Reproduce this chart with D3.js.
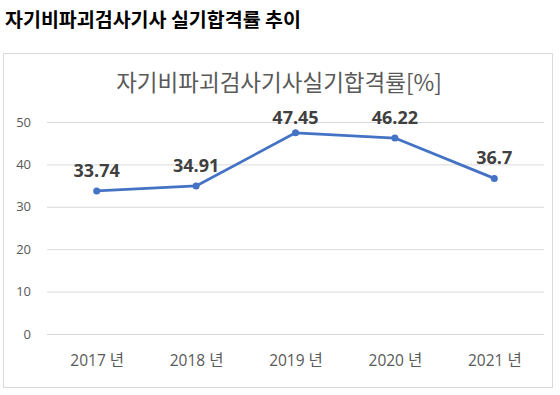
<!DOCTYPE html>
<html>
<head>
<meta charset="utf-8">
<script src="https://cdn.jsdelivr.net/npm/d3@7"></script>
<style>
  body { margin: 0; background: #fff; }
  text { font-family: "Open Sans", "Noto Sans CJK KR", sans-serif; }
  .kr { font-family: "Noto Sans CJK KR", sans-serif; }
</style>
</head>
<body>
<svg width="560" height="395"></svg>
<script>
// chart data
var years = ["2017 년", "2018 년", "2019 년", "2020 년", "2021 년"];
var passRates = [33.74, 34.91, 47.45, 46.22, 36.7];
var yTicks = [0, 10, 20, 30, 40, 50];

var pageTitle = "자기비파괴검사기사 실기합격률 추이";
var chartTitle = "자기비파괴검사기사실기합격률[%]";

var data = years.map(function(d, i) { return { year: d, value: passRates[i] }; });

var svg = d3.select("svg");

svg.append("text")
  .attr("class", "kr")
  .attr("x", 5)
  .attr("y", 27)
  .attr("font-size", 19.5)
  .attr("font-weight", "bold")
  .attr("fill", "#000")
  .text(pageTitle);

// chart box
svg.append("rect")
  .attr("x", 3.5).attr("y", 53.5)
  .attr("width", 549).attr("height", 334)
  .attr("fill", "#fff")
  .attr("stroke", "#d9d9d9");

svg.append("text")
  .attr("class", "kr")
  .attr("x", 279)
  .attr("y", 91)
  .attr("text-anchor", "middle")
  .attr("font-size", 22.5)
  .attr("fill", "#595959")
  .text(chartTitle);

var margin = { left: 47, right: 16 };
var x = d3.scalePoint().domain(years).range([margin.left, 560 - margin.right]).padding(0.5);
var y = d3.scaleLinear().domain([0, 50]).range([334, 122]);

var g = svg.append("g");

g.append("g")
  .attr("transform", "translate(" + margin.left + ",0)")
  .call(d3.axisLeft(y).tickValues(yTicks).tickSize(-(560 - margin.left - margin.right)).tickPadding(16))
  .call(function(a) {
    a.select(".domain").remove();
    a.selectAll(".tick line").attr("stroke", "#d9d9d9");
    a.selectAll(".tick text").attr("font-size", 13).attr("fill", "#595959");
  });

g.append("g")
  .attr("transform", "translate(0,334)")
  .call(d3.axisBottom(x).tickSize(0).tickPadding(21))
  .call(function(a) {
    a.select(".domain").remove();
    a.selectAll(".tick text").attr("font-size", 15.5).attr("fill", "#595959");
  });

var line = d3.line()
  .x(function(d) { return x(d.year); })
  .y(function(d) { return y(d.value); });

g.append("path")
  .datum(data)
  .attr("fill", "none")
  .attr("stroke", "#4472c4")
  .attr("stroke-width", 2.75)
  .attr("stroke-linejoin", "round")
  .attr("d", line);

g.selectAll("circle")
  .data(data)
  .enter().append("circle")
  .attr("cx", function(d) { return x(d.year); })
  .attr("cy", function(d) { return y(d.value); })
  .attr("r", 3.5)
  .attr("fill", "#4472c4");

g.selectAll(".lbl")
  .data(data)
  .enter().append("text")
  .attr("class", "lbl")
  .attr("x", function(d) { return x(d.year); })
  .attr("y", function(d) { return Math.max(y(d.value) - 14, 124); })
  .attr("text-anchor", "middle")
  .attr("font-size", 18)
  .attr("font-weight", "bold")
  .attr("fill", "#404040")
  .text(function(d) { return d.value; });
</script>
</body>
</html>
